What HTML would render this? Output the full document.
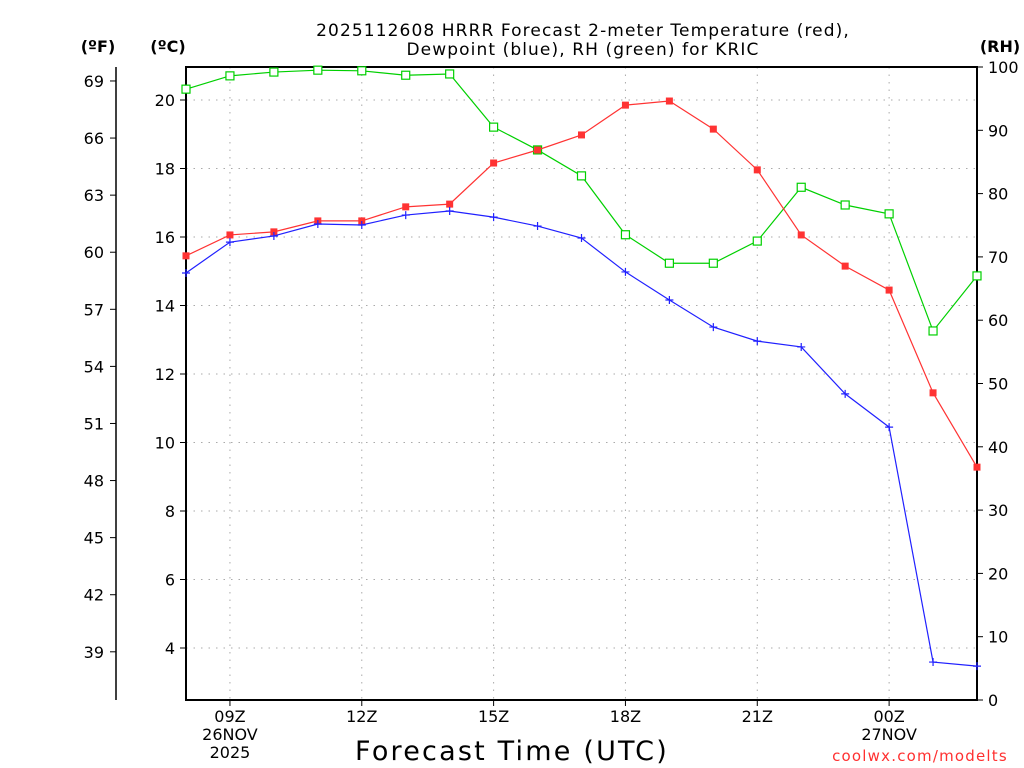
<!DOCTYPE html>
<html><head><meta charset="utf-8">
<style>
html,body{margin:0;padding:0;background:#fff;}
svg{display:block;font-family:"DejaVu Sans","Liberation Sans",sans-serif;}
</style></head>
<body>
<svg id="chart" width="1024" height="768" xmlns="http://www.w3.org/2000/svg">
<text x="583" y="36" text-anchor="middle" font-size="17" letter-spacing="1.1" fill="#000">2025112608 HRRR Forecast 2-meter Temperature (red),</text>
<text x="583" y="55" text-anchor="middle" font-size="17" letter-spacing="1.1" fill="#000">Dewpoint (blue), RH (green) for KRIC</text>
<text x="98" y="52" text-anchor="middle" font-size="16" font-weight="bold">(ºF)</text>
<text x="168" y="52" text-anchor="middle" font-size="16" font-weight="bold">(ºC)</text>
<text x="1000" y="52" text-anchor="middle" font-size="16" font-weight="bold">(RH)</text>
<text x="512" y="760" text-anchor="middle" font-size="27" letter-spacing="2.2">Forecast Time (UTC)</text>
<text x="920" y="761" text-anchor="middle" font-size="15" letter-spacing="1.2" fill="#ff3030">coolwx.com/modelts</text>
<g id="grid"></g><g id="axes"></g><g id="series"></g>
</svg>
<script>
const hours=[8,9,10,11,12,13,14,15,16,17,18,19,20,21,22,23,24,25,26];
const tempC=[15.45,16.06,16.15,16.47,16.47,16.88,16.96,18.16,18.54,18.98,19.85,19.97,19.15,17.96,16.06,15.15,14.45,11.45,9.28];
const dewC=[14.95,15.85,16.03,16.38,16.35,16.64,16.76,16.58,16.32,15.97,14.98,14.16,13.37,12.96,12.79,11.42,10.45,3.59,3.47];
const rh=[96.5,98.6,99.2,99.5,99.4,98.7,98.9,90.5,86.9,82.8,73.5,69.0,69.0,72.5,81.0,78.2,76.8,58.3,67.0];
const cTicks=[4,6,8,10,12,14,16,18,20];
const fTicks=[39,42,45,48,51,54,57,60,63,66,69];
const rhTicks=[0,10,20,30,40,50,60,70,80,90,100];
const xTickHours=[9,12,15,18,21,24];
const xTickLabels=[["09Z","26NOV","2025"],["12Z"],["15Z"],["18Z"],["21Z"],["00Z","27NOV"]];

const L=186,R=977,T=67,B=700;
const xS=h=>L+(h-8)*(R-L)/18;
const cS=c=>100+(20-c)*34.25;
const fS=f=>cS((f-32)/1.8);
const rS=r=>B-r*(B-T)/100;
const NS="http://www.w3.org/2000/svg";
function mk(parent,tag,attrs,name,txt){const e=document.createElementNS(NS,tag);for(const k in attrs)e.setAttribute(k,attrs[k]);


if(txt!==undefined)e.textContent=txt;document.getElementById(parent).appendChild(e);return e;}

cTicks.forEach(c=>{const y=cS(c);
mk('grid','line',{x1:L,x2:R,y1:y,y2:y,stroke:'#aaa','stroke-dasharray':'1.5 6'},'h-gridline');
mk('axes','line',{x1:180,x2:L,y1:y,y2:y,stroke:'#000'},'celsius-tick');
mk('axes','text',{x:175,y:y+6,'text-anchor':'end','font-size':16},'celsius-tick-label',String(c));});
xTickHours.forEach((h,i)=>{const x=xS(h);
mk('grid','line',{x1:x,x2:x,y1:T,y2:B,stroke:'#aaa','stroke-dasharray':'1.5 6'},'v-gridline');
mk('axes','line',{x1:x,x2:x,y1:B,y2:B+6,stroke:'#000'},'x-tick');
xTickLabels[i].forEach((s,j)=>mk('axes','text',{x:x,y:722+j*18,'text-anchor':'middle','font-size':16},'x-tick-label',s));});
fTicks.forEach(f=>{const y=fS(f);
mk('axes','line',{x1:110,x2:116,y1:y,y2:y,stroke:'#000'},'fahrenheit-tick');
mk('axes','text',{x:104,y:y+6,'text-anchor':'end','font-size':16},'fahrenheit-tick-label',String(f));});
rhTicks.forEach(r=>{const y=rS(r);
mk('axes','line',{x1:R,x2:R+6,y1:y,y2:y,stroke:'#000'},'rh-tick');
mk('axes','text',{x:988,y:y+6,'text-anchor':'start','font-size':16},'rh-tick-label',String(r));});
mk('axes','line',{x1:116,x2:116,y1:T,y2:B,stroke:'#000','stroke-width':1.5},'fahrenheit-axis-line');
mk('axes','rect',{x:L,y:T,width:R-L,height:B-T,fill:'none',stroke:'#000','stroke-width':2},'plot-frame');

function series(vals,sc,color,name,marker){
const pts=vals.map((v,i)=>[xS(hours[i]),sc(v)]);
mk('series','polyline',{points:pts.map(p=>p.join(',')).join(' '),fill:'none',stroke:color,'stroke-width':1.2},name+'-line');
pts.forEach(p=>{
if(marker==='filled')mk('series','rect',{x:p[0]-3.5,y:p[1]-3.5,width:7,height:7,fill:color},name+'-point');
else if(marker==='open')mk('series','rect',{x:p[0]-4,y:p[1]-4,width:8,height:8,fill:'#fff',stroke:color,'stroke-width':1.2},name+'-point');
else mk('series','path',{d:`M${p[0]-4},${p[1]}h8M${p[0]},${p[1]-4}v8`,stroke:color,'stroke-width':1.2},name+'-point');});}
series(rh,rS,'#00d000','rh','open');
series(tempC,cS,'#ff3333','temperature','filled');
series(dewC,cS,'#2020ff','dewpoint','plus');
</script>
</body></html>
